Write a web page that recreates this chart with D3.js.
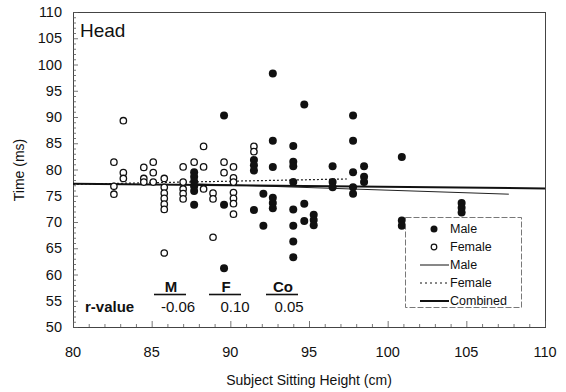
<!DOCTYPE html>
<html>
<head>
<meta charset="utf-8">
<script src="https://cdn.jsdelivr.net/npm/d3@7"></script>
<style>
  body { margin: 0; background: #fff; }
  text { font-family: "Liberation Sans", Arial, sans-serif; fill: #111; }
</style>
</head>
<body>
<div id="chart"></div>
<script>
var svgWidth = 566;
var svgHeight = 392;

// data
var maleHeight = [87.7, 87.7, 87.7, 87.7, 87.7, 87.7,
  89.6, 89.6, 89.6,
  91.5, 91.5, 91.5, 91.5,
  92.1, 92.1,
  92.7, 92.7, 92.7, 92.7, 92.7, 92.7,
  94.0, 94.0, 94.0, 94.0, 94.0, 94.0, 94.0, 94.0,
  94.7, 94.7, 94.7,
  95.3, 95.3, 95.3,
  96.5, 96.5, 96.5,
  97.8, 97.8, 97.8, 97.8, 97.8,
  98.5, 98.5, 98.5,
  100.9, 100.9, 100.9,
  104.7, 104.7, 104.7];
var maleTime = [79.5, 78.6, 77.7, 76.8, 75.9, 73.3,
  90.3, 73.3, 61.2,
  81.8, 80.8, 79.8, 72.3,
  75.4, 69.3,
  98.3, 85.5, 80.5, 74.6, 73.6, 72.6,
  84.5, 81.5, 80.6, 77.6, 72.4, 69.3, 66.3, 63.3,
  92.4, 73.5, 70.2,
  71.4, 70.4, 69.4,
  80.6, 77.6, 76.6,
  90.3, 85.5, 79.5, 76.6, 75.4,
  80.6, 78.6, 77.6,
  82.4, 70.3, 69.3,
  73.6, 72.7, 71.8];

var femaleHeight = [82.6, 82.6, 82.6,
  83.2, 83.2, 83.2,
  84.5, 84.5, 84.5,
  85.1, 85.1, 85.1,
  85.8, 85.8, 85.8, 85.8, 85.8, 85.8, 85.8,
  87.0, 87.0, 87.0, 87.0, 87.0,
  87.7,
  88.3, 88.3, 88.3,
  88.9, 88.9, 88.9,
  89.6, 89.6,
  90.2, 90.2, 90.2, 90.2, 90.2, 90.2, 90.2,
  91.5, 91.5];
var femaleTime = [81.4, 76.8, 75.3,
  89.3, 79.4, 78.3,
  80.4, 78.3, 77.6,
  81.4, 79.4, 77.6,
  78.3, 76.6, 75.5, 74.5, 73.4, 72.4, 64.1,
  80.5, 77.6, 76.3, 75.4, 74.4,
  81.4,
  84.4, 80.5, 76.3,
  75.5, 74.4, 67.1,
  81.4, 79.4,
  80.5, 78.4, 77.6, 75.6, 74.5, 73.5, 71.5,
  84.4, 83.4];

// regression lines: [x start, x end], [y start, y end]
var maleFitX = [87.5, 107.7], maleFitY = [77.3, 75.3];
var femaleFitX = [80, 97.5], femaleFitY = [77.2, 78.2];
var combinedFitX = [80, 110], combinedFitY = [77.3, 76.4];

var rLabels = ["M", "F", "Co"];
var rValues = ["-0.06", "0.10", "0.05"];
var xTicks = [80, 85, 90, 95, 100, 105, 110];
var yTicks = [50, 55, 60, 65, 70, 75, 80, 85, 90, 95, 100, 105, 110];

var plotLeft = 73, plotRight = 545, plotTop = 12, plotBottom = 327;

var svg = d3.select("#chart")
    .append("svg")
    .attr("width", svgWidth)
    .attr("height", svgHeight);

var scX = d3.scaleLinear().domain([80, 110]).range([plotLeft, plotRight]);
var scY = d3.scaleLinear().domain([50, 110]).range([plotBottom, plotTop]);

// frame
svg.append("rect")
    .attr("x", plotLeft + 0.5).attr("y", plotTop + 0.5)
    .attr("width", plotRight - plotLeft).attr("height", plotBottom - plotTop)
    .attr("fill", "none").attr("stroke", "#444").attr("stroke-width", 1);

// y axis ticks (inward) and labels
var yAxis = svg.append("g");
yAxis.selectAll("line")
    .data(d3.range(50, 111, 1))
    .enter().append("line")
    .attr("x1", plotLeft).attr("x2", d => plotLeft + (d % 5 == 0 ? 5 : 3))
    .attr("y1", d => scY(d) + 0.5).attr("y2", d => scY(d) + 0.5)
    .attr("stroke", "#555").attr("stroke-width", 0.8);
yAxis.selectAll("text")
    .data(yTicks)
    .enter().append("text")
    .attr("x", plotLeft - 11)
    .attr("y", d => scY(d))
    .attr("dy", "0.35em")
    .attr("text-anchor", "end")
    .style("font-size", "14.5px")
    .text(d => d);

// x axis ticks and labels
var xAxis = svg.append("g");
xAxis.selectAll("line")
    .data(d3.range(80, 111, 1))
    .enter().append("line")
    .attr("x1", d => scX(d) + 0.5).attr("x2", d => scX(d) + 0.5)
    .attr("y1", plotBottom).attr("y2", d => plotBottom - (d % 5 == 0 ? 6 : 3))
    .attr("stroke", "#555").attr("stroke-width", 0.8);
xAxis.selectAll("text")
    .data(xTicks)
    .enter().append("text")
    .attr("x", d => scX(d))
    .attr("y", 357)
    .attr("text-anchor", "middle")
    .style("font-size", "14.5px")
    .text(d => d);

// axis titles
svg.append("text")
    .attr("x", 309).attr("y", 385)
    .attr("text-anchor", "middle")
    .style("font-size", "14px")
    .text("Subject Sitting Height (cm)");
svg.append("text")
    .attr("transform", "translate(24,170) rotate(-90)")
    .attr("text-anchor", "middle")
    .style("font-size", "14px")
    .text("Time (ms)");

// panel label
svg.append("text")
    .attr("x", 80).attr("y", 37)
    .style("font-size", "19px")
    .text("Head");

// regression lines
var fitLine = function(xs, ys) {
  return d3.line().x(d => scX(d[0])).y(d => scY(d[1]))(d3.zip(xs, ys));
};
svg.append("path")
    .attr("d", fitLine(maleFitX, maleFitY))
    .attr("stroke", "#222").attr("stroke-width", 1).attr("fill", "none");
svg.append("path")
    .attr("d", fitLine(femaleFitX, femaleFitY))
    .attr("stroke", "#222").attr("stroke-width", 1.2)
    .attr("stroke-dasharray", "2,2").attr("fill", "none");
svg.append("path")
    .attr("d", fitLine(combinedFitX, combinedFitY))
    .attr("stroke", "#111").attr("stroke-width", 2).attr("fill", "none");

// points
svg.append("g").selectAll("circle")
    .data(d3.zip(femaleHeight, femaleTime))
    .enter().append("circle")
    .attr("cx", d => scX(d[0]))
    .attr("cy", d => scY(d[1]))
    .attr("r", 3.2)
    .attr("fill", "#fff").attr("stroke", "#111").attr("stroke-width", 1.3);

svg.append("g").selectAll("circle")
    .data(d3.zip(maleHeight, maleTime))
    .enter().append("circle")
    .attr("cx", d => scX(d[0]))
    .attr("cy", d => scY(d[1]))
    .attr("r", 4)
    .attr("fill", "#111");

// r-value table
svg.append("text")
    .attr("x", 85).attr("y", 312)
    .style("font-size", "15px").style("font-weight", "bold")
    .text("r-value");
var rx = [171, 226, 283];
var rvx = [178, 235, 289];
rLabels.forEach(function(lab, i) {
  svg.append("text")
      .attr("x", rx[i]).attr("y", 292)
      .attr("text-anchor", "middle")
      .style("font-size", "15px").style("font-weight", "bold")
      .text(lab);
  svg.append("line")
      .attr("x1", rx[i] - 17).attr("x2", rx[i] + 15)
      .attr("y1", 294.5).attr("y2", 294.5)
      .attr("stroke", "#111").attr("stroke-width", 1.6);
  svg.append("text")
      .attr("x", rvx[i]).attr("y", 312)
      .attr("text-anchor", "middle")
      .style("font-size", "15px")
      .text(rValues[i]);
});

// legend
var lg = svg.append("g");
lg.append("rect")
    .attr("x", 405.5).attr("y", 217.5)
    .attr("width", 116).attr("height", 90)
    .attr("fill", "#fff").attr("stroke", "#555").attr("stroke-width", 0.8)
    .attr("stroke-dasharray", "6,2");
var legendNames = ["Male", "Female", "Male", "Female", "Combined"];
legendNames.forEach(function(name, i) {
  var yy = 229 + i * 18;
  if (i == 0) {
    lg.append("circle").attr("cx", 434).attr("cy", yy).attr("r", 3.5).attr("fill", "#111");
  } else if (i == 1) {
    lg.append("circle").attr("cx", 434).attr("cy", yy).attr("r", 2.8)
        .attr("fill", "#fff").attr("stroke", "#111").attr("stroke-width", 1.2);
  } else {
    lg.append("line").attr("x1", 420).attr("x2", 449).attr("y1", yy).attr("y2", yy)
        .attr("stroke", "#111")
        .attr("stroke-width", i == 4 ? 2 : 1)
        .attr("stroke-dasharray", i == 3 ? "2,3" : null);
  }
  lg.append("text")
      .attr("x", 450).attr("y", yy)
      .attr("dy", "0.35em")
      .style("font-size", "12.5px")
      .text(name);
});
</script>
</body>
</html>
